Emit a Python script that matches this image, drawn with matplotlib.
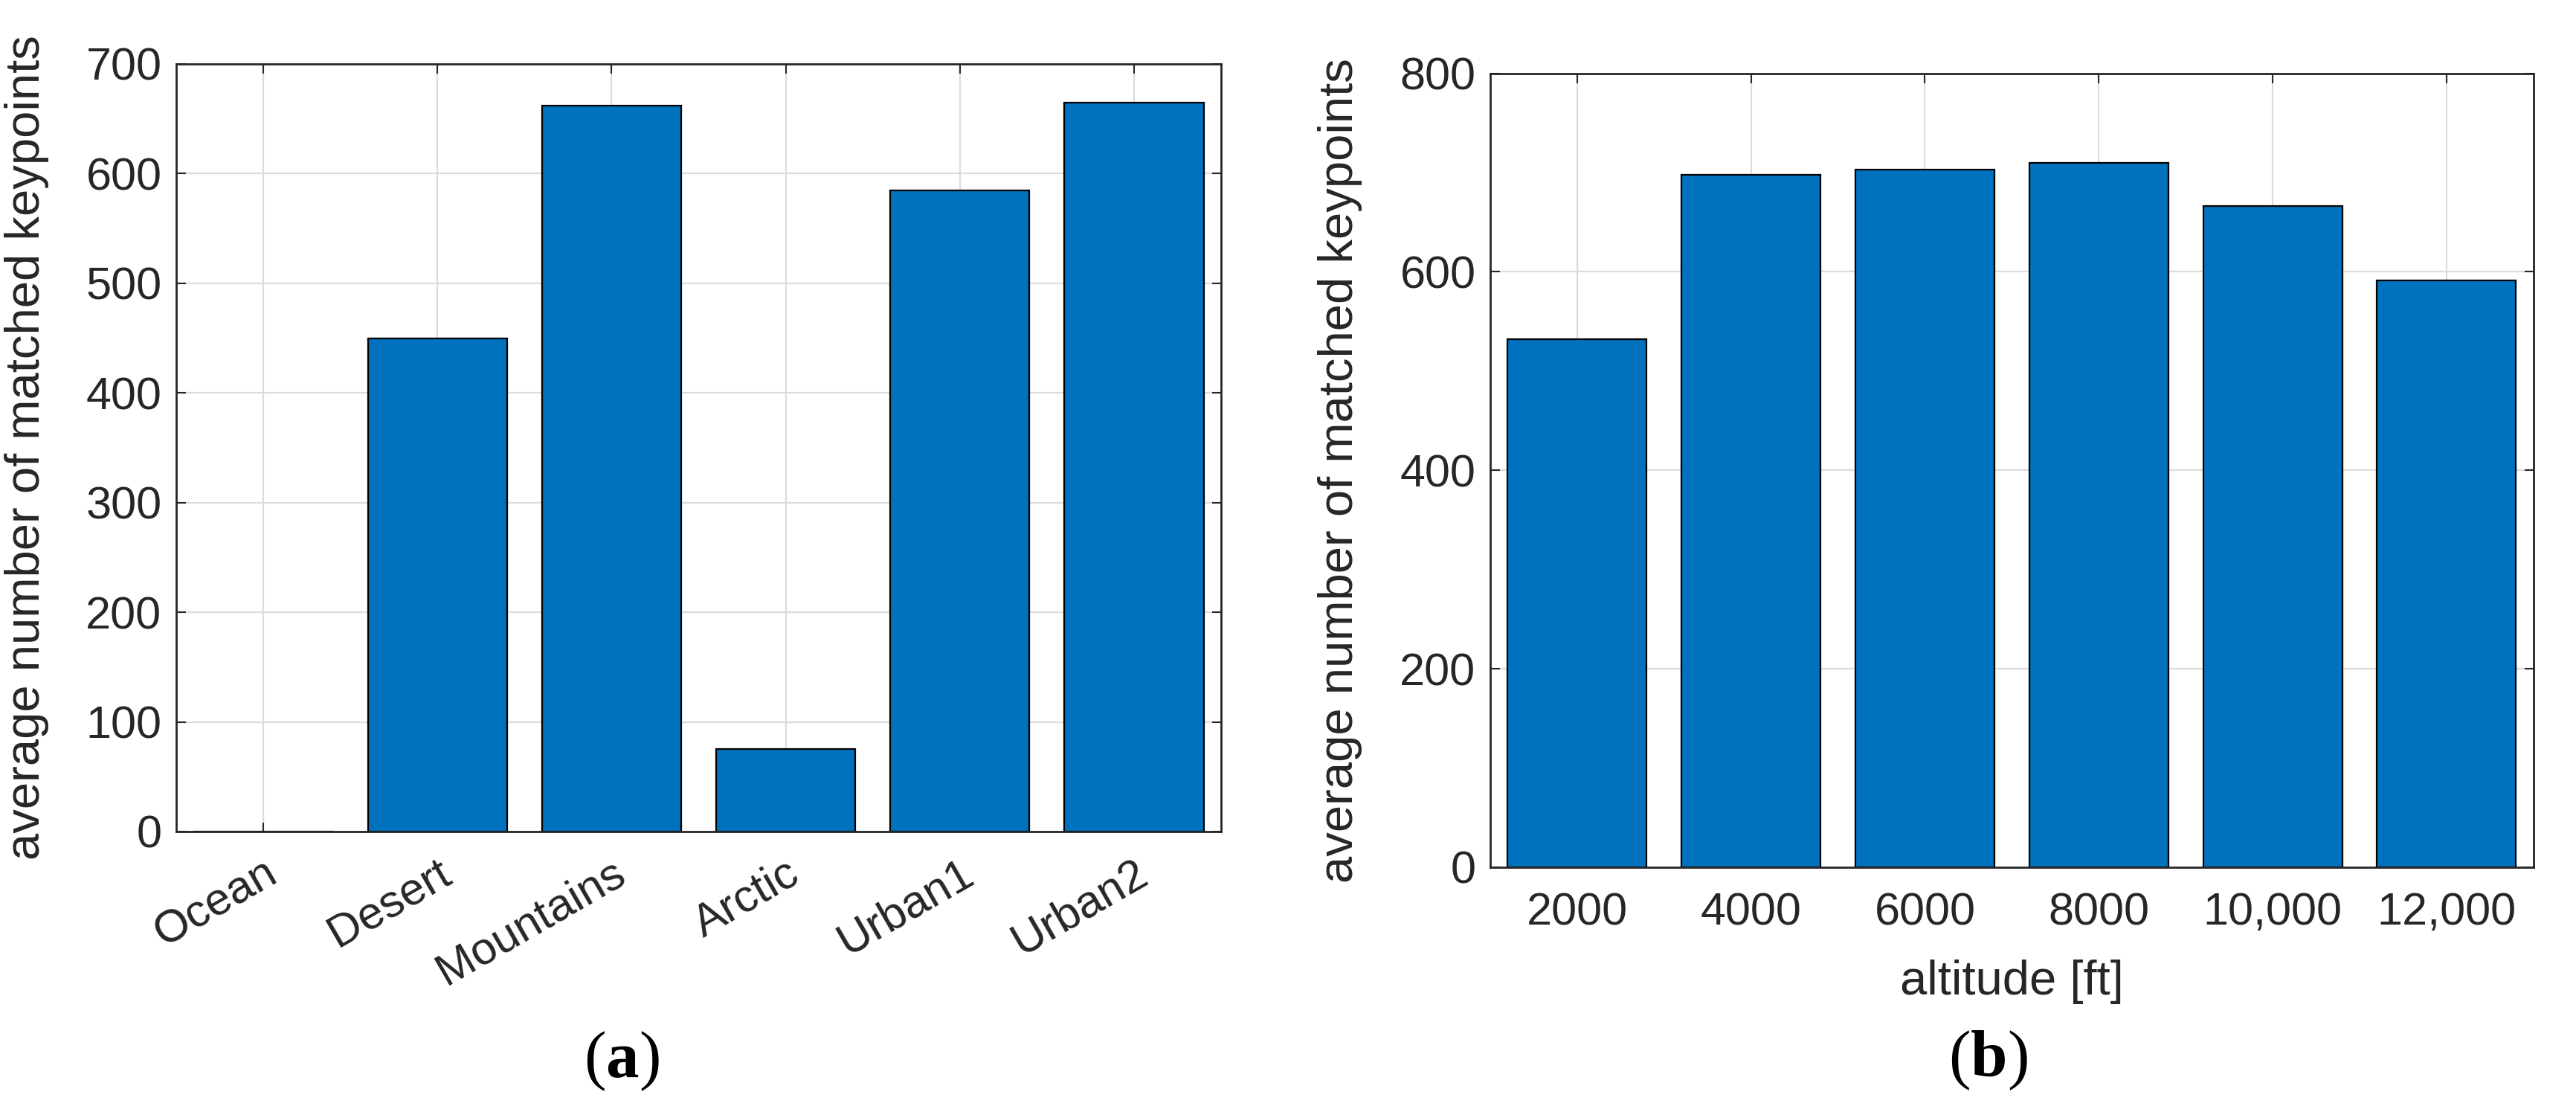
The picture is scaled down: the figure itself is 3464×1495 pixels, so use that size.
import matplotlib
matplotlib.use("Agg")
import matplotlib.pyplot as plt

plt.rcParams["font.family"] = ["Liberation Sans", "DejaVu Sans"]
plt.rcParams["mathtext.fontset"] = "custom"
plt.rcParams["mathtext.rm"] = "Liberation Serif"
plt.rcParams["mathtext.bf"] = "Liberation Serif:bold"

# (a) terrain types
terrain = ["Ocean", "Desert", "Mountains", "Arctic", "Urban1", "Urban2"]
terrain_kp = [0, 450, 662, 75, 585, 665]

# (b) altitude
altitude = ["2000", "4000", "6000", "8000", "10,000", "12,000"]
altitude_kp = [532, 698, 703, 710, 666, 591]

bar_col = "#0072BD"
ax_col = "#262626"
grid_col = "#dcdcdc"
fs = 44      # tick labels
lfs = 47     # axis labels

fig = plt.figure(figsize=(34.64, 14.95), dpi=100)
ax1 = fig.add_axes([0.0684, 0.2522, 0.4056, 0.6903])
ax2 = fig.add_axes([0.5785, 0.2201, 0.4050, 0.7139])


def style(ax):
    ax.set_axisbelow(True)
    ax.grid(True, color=grid_col, linewidth=1.6)
    for s in ax.spines.values():
        s.set_color(ax_col)
        s.set_linewidth(2.0)
    ax.tick_params(axis="both", direction="in", top=True, right=True,
                   length=9, width=1.5, color=ax_col, labelcolor=ax_col,
                   labelsize=fs)
    ax.set_xlim(0.5, 6.5)


x1 = range(1, len(terrain) + 1)
ax1.bar(x1, terrain_kp, width=0.8, color=bar_col, edgecolor="black", linewidth=1.6)
style(ax1)
ax1.set_ylim(0, 700)
ax1.set_yticks(range(0, 701, 100))
ax1.set_xticks(list(x1))
ax1.set_xticklabels(terrain, rotation=30, ha="right", va="top", rotation_mode="anchor")
ax1.tick_params(axis="x", pad=20)
ax1.tick_params(axis="y", pad=14)
ax1.set_ylabel("average number of matched keypoints", fontsize=lfs, color=ax_col)
ax1.yaxis.set_label_coords(-0.1217, 0.5)

x2 = range(1, len(altitude) + 1)
ax2.bar(x2, altitude_kp, width=0.8, color=bar_col, edgecolor="black", linewidth=1.6)
style(ax2)
ax2.set_ylim(0, 800)
ax2.set_yticks(range(0, 801, 200))
ax2.set_xticks(list(x2))
ax2.set_xticklabels(altitude)
ax2.tick_params(axis="x", pad=24)
ax2.tick_params(axis="y", pad=14)
ax2.set_ylabel("average number of matched keypoints", fontsize=lfs, color=ax_col)
ax2.yaxis.set_label_coords(-0.1226, 0.5)
ax2.set_xlabel("altitude [ft]", fontsize=lfs, color=ax_col)
ax2.xaxis.set_label_coords(0.5, -0.1443)
ax2.xaxis.label.set_va("center")

fig.text(836 / 3464, 1 - 1427 / 1495, r"$(\mathbf{a})$", fontsize=64,
         ha="center", va="center", color="black")
fig.text(2673 / 3464, 1 - 1426 / 1495, r"$(\mathbf{b})$", fontsize=64,
         ha="center", va="center", color="black")

fig.savefig("out.png", dpi=100, facecolor="white")
